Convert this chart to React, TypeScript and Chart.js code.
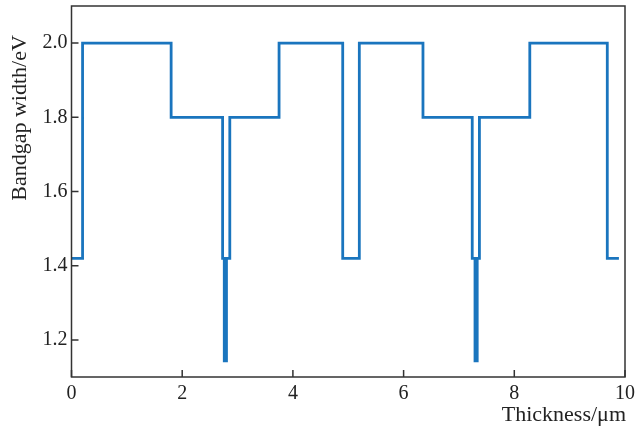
import React, { useEffect, useRef } from 'react';
import { Chart, registerables } from 'chart.js';

Chart.register(...registerables);

// Layer boundaries (µm) and band-gap level (eV) of each layer
const stepEdges = [0, 0.2, 1.8, 2.73, 2.86, 3.75, 4.9, 5.2, 6.35, 7.24, 7.37, 8.28, 9.68, 9.89];
const stepLevels = [1.42, 2.0, 1.8, 1.42, 1.8, 2.0, 1.42, 2.0, 1.8, 1.42, 1.8, 2.0, 1.42];
// Narrow tunnel-junction spikes
const spikeX = [2.78, 7.31];
const spikeTop = [1.42, 1.42];
const spikeBottom = [1.14, 1.14];

const xTicks = [0, 2, 4, 6, 8, 10];
const yTicks = [1.2, 1.4, 1.6, 1.8, 2.0];
const xTitle = 'Thickness/μm';
const yTitle = 'Bandgap width/eV';

const LINE = 'rgb(26,117,190)';
const AXIS = '#333333';
const FONT = "'Liberation Serif', 'DejaVu Serif', serif";

export default function App() {
  const ref = useRef<HTMLCanvasElement | null>(null);

  useEffect(() => {
    if (!ref.current) return;
    const stepPoints = stepLevels.map((v, i) => ({ x: stepEdges[i], y: v }));
    stepPoints.push({ x: stepEdges[stepEdges.length - 1], y: stepLevels[stepLevels.length - 1] });

    const spikeSets = spikeX.map((x, i) => ({
      data: [{ x, y: spikeTop[i] }, { x, y: spikeBottom[i] }],
      borderColor: LINE,
      borderWidth: 5,
      pointRadius: 0,
      borderCapStyle: 'butt' as const,
      fill: false,
    }));

    const framePlugin = {
      id: 'frame',
      afterDraw(chart: any) {
        const { ctx, chartArea: a, scales } = chart;
        ctx.save();
        ctx.strokeStyle = AXIS;
        ctx.lineWidth = 1.5;
        ctx.strokeRect(a.left, a.top, a.right - a.left, a.bottom - a.top);
        ctx.beginPath();
        for (const t of yTicks) {
          const y = scales.y.getPixelForValue(t);
          ctx.moveTo(a.left, y);
          ctx.lineTo(a.left + 7, y);
        }
        for (const t of xTicks) {
          const x = scales.x.getPixelForValue(t);
          ctx.moveTo(x, a.bottom);
          ctx.lineTo(x, a.bottom - 7);
        }
        ctx.stroke();
        ctx.fillStyle = '#222';
        ctx.font = `22px ${FONT}`;
        ctx.textAlign = 'right';
        ctx.textBaseline = 'alphabetic';
        ctx.fillText(xTitle, a.right + 1, 421);
        ctx.translate(26, 118);
        ctx.rotate(-Math.PI / 2);
        ctx.textAlign = 'center';
        ctx.fillText(yTitle, 0, 0);
        ctx.restore();
      },
    };

    const chart = new Chart(ref.current, {
      type: 'line',
      data: {
        datasets: [
          {
            data: stepPoints,
            stepped: true,
            borderColor: LINE,
            borderWidth: 2.8,
            pointRadius: 0,
            borderJoinStyle: 'miter',
            fill: false,
          },
          ...spikeSets,
        ],
      },
      options: {
        responsive: false,
        animation: false,
        layout: { padding: { top: 6, right: 11, left: 0, bottom: 0 } },
        plugins: { legend: { display: false }, tooltip: { enabled: false } },
        scales: {
          x: {
            type: 'linear',
            min: 0,
            max: 10,
            afterBuildTicks: (s: any) => { s.ticks = xTicks.map((v) => ({ value: v })); },
            afterFit: (s: any) => { s.height = 53; s.paddingLeft = 0; s.paddingRight = 0; },
            grid: { display: false, drawTicks: false },
            border: { display: false },
            ticks: { font: { family: FONT, size: 20 }, color: '#222', padding: 5, maxRotation: 0 },
          },
          y: {
            type: 'linear',
            min: 1.1,
            max: 2.1,
            afterBuildTicks: (s: any) => { s.ticks = yTicks.map((v) => ({ value: v })); },
            afterFit: (s: any) => { s.width = 71.5; s.paddingTop = 0; s.paddingBottom = 0; },
            grid: { display: false, drawTicks: false },
            border: { display: false },
            ticks: {
              font: { family: FONT, size: 20 },
              color: '#222',
              padding: 4,
              callback: (v: any) => Number(v).toFixed(1),
            },
          },
        },
      },
      plugins: [framePlugin],
    });
    return () => chart.destroy();
  }, []);

  return (
    <div style={{ position: 'absolute', left: 0, top: 0, width: 636, height: 430, background: '#fff' }}>
      <canvas ref={ref} width={636} height={430} />
    </div>
  );
}
